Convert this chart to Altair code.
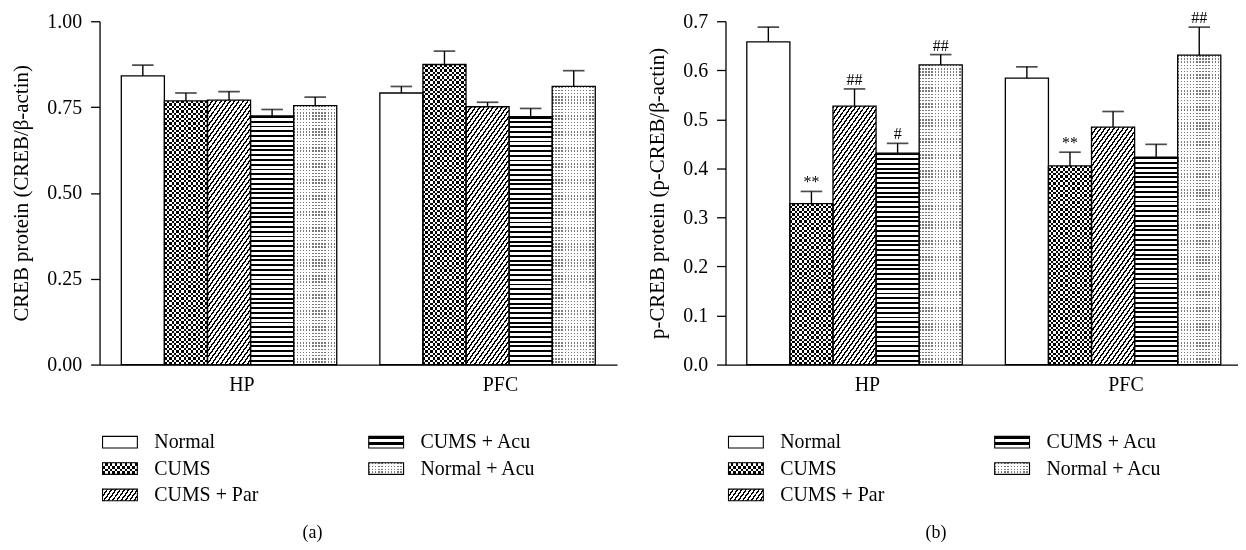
import altair as alt
import pandas as pd

FONT = "Liberation Serif"

# ---------------- data ----------------
groups = ["HP", "PFC"]
series = ["Normal", "CUMS", "CUMS + Par", "CUMS + Acu", "Normal + Acu"]

creb_hp = [0.841, 0.768, 0.770, 0.724, 0.754]
creb_hp_sem = [0.031, 0.023, 0.025, 0.019, 0.025]
creb_pfc = [0.791, 0.874, 0.751, 0.722, 0.810]
creb_pfc_sem = [0.019, 0.039, 0.013, 0.024, 0.046]
creb_hp_sig = ["", "", "", "", ""]
creb_pfc_sig = ["", "", "", "", ""]

pcreb_hp = [0.658, 0.328, 0.527, 0.431, 0.611]
pcreb_hp_sem = [0.030, 0.025, 0.035, 0.020, 0.021]
pcreb_pfc = [0.584, 0.405, 0.484, 0.423, 0.631]
pcreb_pfc_sem = [0.023, 0.028, 0.032, 0.026, 0.057]
pcreb_hp_sig = ["", "**", "##", "#", "##"]
pcreb_pfc_sig = ["", "**", "", "", "##"]

creb_ticks = [0.0, 0.25, 0.5, 0.75, 1.0]
pcreb_ticks = [0.0, 0.1, 0.2, 0.3, 0.4, 0.5, 0.6, 0.7]

# ---------------- pattern helpers (gradient stripes) ----------------
def grad(n, duty, on, off, x2, y2):
    stops = []
    for i in range(n):
        a = round(i / n, 5)
        m = round((i + duty) / n, 5)
        b = round((i + 1) / n, 5)
        stops += [
            {"offset": a, "color": on},
            {"offset": m, "color": on},
            {"offset": m, "color": off},
            {"offset": b, "color": off},
        ]
    return {"gradient": "linear", "x1": 0, "y1": 0,
            "x2": round(x2, 5), "y2": round(y2, 5), "stops": stops}


def vstripes(w, period, duty, on, off):
    return grad(max(1, round(w / period)), duty, on, off, 1, 0)


def hstripes(h, period, duty, on, off):
    return grad(max(1, round(h / period)), duty, on, off, 0, 1)


def hatch(w, h, ph, k, duty):
    A = k * w / h
    c = (A + 1) / (A * A + 1)
    pv = ph * k
    n = max(1, round(h * (A + 1) / pv))
    return grad(n, duty, "black", "white", c * A, c)


def fills(s, w, h):
    if s == "Normal":
        return [("white", None)]
    if s == "CUMS":
        return [(vstripes(w, 4.8, 0.5, "black", "white"), None),
                (hstripes(h, 4.8, 0.5, "white", "black"), "difference")]
    if s == "CUMS + Par":
        return [(hatch(w, h, 4.5, 1.4, 0.38), None)]
    if s == "CUMS + Acu":
        return [(hstripes(h, 4.8, 0.4, "black", "white"), None)]
    return [(vstripes(w, 3.2, 0.45, "#7a7a7a", "white"), None),
            (hstripes(h, 3.2, 0.45, "#7a7a7a", "white"), "lighten")]


# ---------------- layout constants ----------------
H = 345
PI = 0.1667
STEP = 259.8
FS = 20


def panel(hp, hp_sem, pfc, pfc_sem, hp_sig, pfc_sig, ymax, ticks, fmt, ytitle, W, align):
    rows = []
    for g, m, e, sg in (("HP", hp, hp_sem, hp_sig), ("PFC", pfc, pfc_sem, pfc_sig)):
        for i, s in enumerate(series):
            rows.append({"group": g, "series": s, "value": m[i],
                         "top": m[i] + e[i], "sig": sg[i]})
    df = pd.DataFrame(rows)

    po = (W / STEP - (2 - PI)) / 2
    bar_w = STEP * (1 - PI) / 5
    ppu = H / ymax

    xenc = alt.X("group:N", sort=groups,
                 scale=alt.Scale(domain=groups, paddingInner=PI, paddingOuter=po, align=align),
                 axis=alt.Axis(title=None, labelAngle=0, ticks=False, labelPadding=10,
                               labelFontSize=FS, labelFont=FONT, labelColor="black",
                               domainColor="black", domainWidth=1.3, labelOffset=13))
    xo = alt.XOffset("series:N", sort=series,
                     scale=alt.Scale(domain=series, paddingInner=0, paddingOuter=0))
    yscale = alt.Scale(domain=[0, ymax], nice=False, zero=True)
    yaxis = alt.Axis(values=ticks, format=fmt, title=ytitle, tickSize=9, labelPadding=9,
                     tickColor="black", tickWidth=1.3, domainColor="black", domainWidth=1.3,
                     grid=False, labelFont=FONT, labelFontSize=FS, labelColor="black",
                     titleFont=FONT, titleFontSize=21, titleFontWeight="normal",
                     titleColor="black", titlePadding=15)
    yv = alt.Y("value:Q", scale=yscale, axis=yaxis)
    yt = alt.Y("top:Q", scale=yscale, axis=yaxis)

    base = alt.Chart(df).encode(x=xenc, xOffset=xo)
    layers = []
    for r in rows:
        h = r["value"] * ppu
        for f, blend in fills(r["series"], bar_w, h):
            kw = {"fill": f, "strokeWidth": 0}
            if blend:
                kw["blend"] = blend
            layers.append(
                base.transform_filter(
                    (alt.datum.group == r["group"]) & (alt.datum.series == r["series"])
                ).mark_bar(**kw).encode(y=yv)
            )
    outline = base.mark_bar(fillOpacity=0, stroke="black", strokeWidth=1.3).encode(y=yv)
    err = base.mark_rule(color="black", strokeWidth=1.4).encode(y=yv, y2="top:Q")
    cap = base.mark_tick(size=bar_w / 2, thickness=1.7, color="black").encode(y=yt)
    txt = base.mark_text(baseline="bottom", dy=-1, font=FONT, fontSize=16,
                         color="black").encode(y=yt, text="sig:N")
    return alt.layer(*layers, outline, err, cap, txt).properties(width=W, height=H)


SW, SH = 35, 11.7
PATH = "M-1,-{h:.4f}L1,-{h:.4f}L1,{h:.4f}L-1,{h:.4f}Z".format(h=SH / SW)


def legend(W, caption, cap_dx):
    ld = pd.DataFrame({"series": series,
                       "col": [i // 3 for i in range(len(series))],
                       "row": [i % 3 for i in range(len(series))]})
    xl = alt.X("col:Q", scale=alt.Scale(domain=[0, 1], range=[20.5, 288]), axis=None)
    yl = alt.Y("row:Q", scale=alt.Scale(domain=[0, 2], range=[40, 93]), axis=None)
    base = alt.Chart(ld).encode(x=xl, y=yl)
    layers = []
    for s in series:
        for f, blend in fills(s, SW, SH):
            kw = {"fill": f, "strokeWidth": 0, "filled": True, "opacity": 1,
                  "shape": PATH, "size": SW * SW}
            if blend:
                kw["blend"] = blend
            layers.append(base.transform_filter(alt.datum.series == s).mark_point(**kw))
    outline = base.mark_point(shape=PATH, size=SW * SW, filled=False, opacity=1,
                              stroke="black", strokeWidth=1.1)
    txt = base.mark_text(align="left", baseline="middle", dx=34.5, font=FONT, fontSize=FS,
                         color="black").encode(text="series:N")
    return alt.layer(*layers, outline, txt).properties(
        width=W, height=100,
        title=alt.TitleParams(caption, orient="bottom", anchor="middle", dx=cap_dx,
                              offset=19, font=FONT, fontSize=18, fontWeight="normal",
                              color="black"))


left = panel(creb_hp, creb_hp_sem, creb_pfc, creb_pfc_sem, creb_hp_sig, creb_pfc_sig,
             1.0, creb_ticks, ".2f", "CREB protein (CREB/β-actin)", 520, 0.5)
right = panel(pcreb_hp, pcreb_hp_sem, pcreb_pfc, pcreb_pfc_sem, pcreb_hp_sig, pcreb_pfc_sig,
              0.7, pcreb_ticks, ".1f", "p-CREB protein (p-CREB/β-actin)", 515, 0.553)

chart = alt.hconcat(
    alt.vconcat(left, legend(520, "(a)", -46), spacing=8),
    alt.vconcat(right, legend(515, "(b)", -46), spacing=8),
    spacing=30,
).properties(
    padding={"left": 3, "top": 0, "right": 0, "bottom": 0},
    background="white",
).configure_view(strokeWidth=0)

chart.save("out.html", embed_options={"renderer": "svg", "actions": False})
